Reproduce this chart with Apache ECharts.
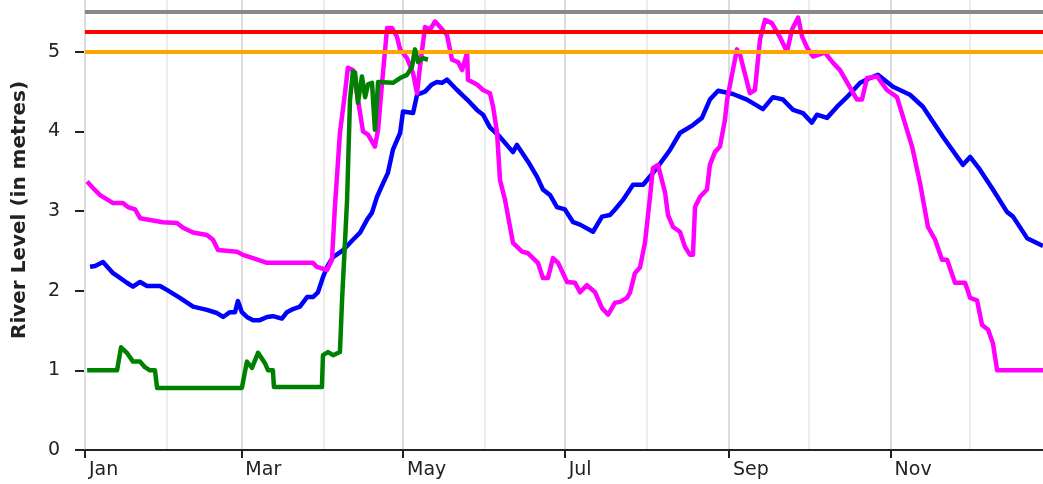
<!DOCTYPE html>
<html>
<head>
<meta charset="utf-8">
<script src="https://cdn.jsdelivr.net/npm/echarts@6/dist/echarts.min.js"></script>
<style>
html,body{margin:0;padding:0;background:#fff;}
#chart{width:1043px;height:484px;}
</style>
</head>
<body>
<div id="chart"></div>
<script>
// X axis: day of year (0 = 1 Jan)
const tickDays = [0, 59, 120, 181, 243, 304];
const tickLabels = ['Jan', 'Mar', 'May', 'Jul', 'Sep', 'Nov'];
const minorMonthDays = [31, 90, 151, 212, 273, 334];
const yTicks = [0, 1, 2, 3, 4, 5];
const thresholdLevels = [5.0, 5.25, 5.5];

const blueDays = [1.9,3.8,6.8,10.6,13.2,15.8,18.1,20.8,23.4,28.3,30.9,35.8,40.8,46,49.8,52.1,54.7,56.6,57.7,59.2,61.1,63.4,66,68.7,70.9,74.3,76.2,78.5,81.1,83.8,86,87.9,89.8,91.7,93.6,97.4,101.1,103.8,106.4,108.3,110.2,112.5,114.3,116.2,118.9,120,123.8,125.3,128.3,130.9,132.8,134.7,136.6,140.4,144.2,147.9,150.2,152.8,156.6,161.5,163,167.2,170.6,172.8,175.5,178.1,181.1,184.2,186.8,191.7,195.1,198.1,200,203,206.8,210.6,212.1,215.8,220.8,224.5,229.4,232.8,235.8,238.9,244.5,249.8,255.8,259.6,263.4,267.2,270.9,274.3,276.2,280,283.8,287.5,292.5,296.2,299.2,304.9,311.3,316.2,323.8,331.3,334,337.7,342.6,347.9,350.2,355.5,361.5];
const blueVals = [2.30,2.31,2.36,2.22,2.16,2.10,2.05,2.11,2.06,2.06,2.01,1.91,1.80,1.76,1.72,1.67,1.73,1.73,1.87,1.73,1.67,1.63,1.63,1.67,1.68,1.65,1.73,1.77,1.80,1.92,1.92,1.98,2.17,2.32,2.42,2.51,2.64,2.73,2.89,2.98,3.18,3.35,3.48,3.77,3.98,4.25,4.23,4.46,4.50,4.59,4.62,4.61,4.65,4.52,4.40,4.27,4.21,4.05,3.93,3.74,3.83,3.62,3.43,3.27,3.20,3.05,3.02,2.86,2.83,2.74,2.93,2.95,3.02,3.14,3.33,3.33,3.39,3.54,3.77,3.98,4.08,4.17,4.40,4.51,4.47,4.40,4.28,4.43,4.40,4.27,4.23,4.11,4.21,4.17,4.31,4.43,4.61,4.67,4.71,4.56,4.46,4.31,3.93,3.58,3.68,3.52,3.27,2.99,2.93,2.66,2.56];

const magentaDays = [0.8,3.0,5.7,10.6,14.3,16.2,18.9,20.8,29.4,34.7,37,40.8,46,48.3,50.2,57.4,59.6,63.4,68.7,86,87.5,91.3,93.2,94.3,96.2,98.1,99.2,101.1,103,104.9,106.8,109.4,110.6,112.1,114,115.8,117.7,118.9,121.5,123.8,125.3,126.4,128.3,130.2,132.1,134,136.6,138.5,140.8,142.3,144.2,144.5,147.9,150.2,152.8,154,155.5,156.6,158.5,161.5,164.9,167.2,170.9,172.8,174.7,176.6,178.5,181.9,184.9,186.8,189.4,192.5,195.1,197.4,200,201.9,204.5,205.7,207.5,209.4,211.3,213.2,214.3,216.2,218.9,220,221.9,224.5,226.4,228.3,229.4,230.2,232.1,234.7,235.8,237.7,239.6,241.5,242.3,246,247.2,250.9,252.8,254.7,256.6,259.2,262.3,264.9,266.8,269.1,270.6,272.5,274.7,279.2,282.3,284.9,288.7,291.3,293.2,295.1,298.9,302.6,306.4,308.7,312.1,315.1,318.1,320.8,323.4,325.3,328.3,332.1,334,336.6,338.5,340.8,342.6,344.2,361.5];
const magentaVals = [3.37,3.29,3.20,3.10,3.10,3.05,3.02,2.91,2.86,2.85,2.79,2.73,2.70,2.64,2.51,2.49,2.45,2.41,2.35,2.35,2.30,2.26,2.39,3.05,3.98,4.48,4.80,4.77,4.40,4.00,3.96,3.81,4.02,4.61,5.30,5.30,5.19,5.03,4.92,4.73,4.48,4.81,5.31,5.28,5.38,5.31,5.21,4.90,4.87,4.77,4.99,4.65,4.59,4.52,4.48,4.31,3.98,3.39,3.14,2.60,2.49,2.47,2.35,2.16,2.16,2.41,2.35,2.11,2.10,1.98,2.07,1.98,1.78,1.70,1.85,1.86,1.91,1.98,2.22,2.29,2.60,3.18,3.54,3.58,3.23,2.95,2.80,2.74,2.55,2.45,2.45,3.05,3.18,3.27,3.58,3.74,3.81,4.15,4.40,5.03,4.96,4.48,4.52,5.15,5.40,5.36,5.18,5.00,5.28,5.43,5.19,5.05,4.94,4.99,4.86,4.77,4.55,4.40,4.40,4.67,4.69,4.52,4.43,4.18,3.81,3.35,2.80,2.64,2.39,2.39,2.10,2.10,1.91,1.88,1.57,1.51,1.34,1.00,1.00];

const greenDays = [0.8,12.1,13.6,15.8,18.1,20.8,22.6,24.5,26.4,27.2,59.2,61.1,63,65.3,67.9,69.1,70.9,71.3,89.4,89.8,91.7,93.6,96.2,97,98.9,100,101.1,101.9,103,104.5,105.7,106.8,108.3,109.4,110.6,116.2,118.9,121.5,123.4,124.5,125.7,127.5,129.4];
const greenVals = [1.00,1.00,1.29,1.22,1.11,1.11,1.04,1.00,1.00,0.78,0.78,1.11,1.03,1.22,1.09,1.00,1.00,0.79,0.79,1.19,1.23,1.19,1.23,1.88,3.14,4.40,4.75,4.74,4.36,4.69,4.43,4.59,4.61,4.02,4.62,4.61,4.67,4.71,4.81,5.03,4.87,4.92,4.90];

const zip = (a, b) => a.map((d, i) => [d, b[i]]);
const thresholdColors = ['#ffa500', '#ff0000', '#888888'];

const chart = echarts.init(document.getElementById('chart'), null, {renderer: 'canvas'});
const labelFont = {fontFamily: 'DejaVu Sans', fontSize: 19, color: '#222'};

const levelLines = thresholdLevels.map((v, i) => ({yAxis: v, lineStyle: {color: thresholdColors[i], width: 4, type: 'solid'}}));

function lineSeries(days, vals, color, z) {
  return {type: 'line', xAxisIndex: 0, data: zip(days, vals), symbol: 'none', showSymbol: false, z: z, silent: true,
    lineStyle: {color: color, width: 4.5, join: 'round'}, itemStyle: {color: color},
    emphasis: {disabled: true}};
}

chart.setOption({
  animation: false,
  backgroundColor: '#fff',
  grid: {left: 85, right: 0, top: 0, bottom: 34, containLabel: false},
  xAxis: [{
    type: 'value', min: 0, max: 361.5, position: 'bottom', z: 3,
    axisLine: {show: true, onZero: false, lineStyle: {color: '#222', width: 2}},
    axisTick: {show: true, customValues: tickDays, length: 8, lineStyle: {color: '#222', width: 2}},
    axisLabel: Object.assign({
      customValues: tickDays, align: 'left', margin: 11, padding: [0, 0, 0, 4],
      formatter: v => { const i = tickDays.indexOf(Math.round(v)); return i >= 0 ? tickLabels[i] : ''; }
    }, labelFont),
    splitLine: {show: true, lineStyle: {color: '#dcdcdc', width: 2, type: 'solid'}}
  }, {
    type: 'value', min: 0, max: 361.5, position: 'bottom', z: 1,
    axisLine: {show: false},
    axisTick: {show: false, customValues: minorMonthDays},
    axisLabel: {show: false, customValues: minorMonthDays},
    splitLine: {show: true, lineStyle: {color: '#ececec', width: 2, type: 'solid'}}
  }],
  yAxis: {
    type: 'value', min: 0, max: 5.65,
    name: 'River Level (in metres)', nameLocation: 'middle', nameGap: 55,
    nameTextStyle: {fontFamily: 'DejaVu Sans', fontWeight: 'bold', fontSize: 20, color: '#222', padding: [0, 0, 0, 30]},
    axisLine: {show: true, lineStyle: {color: '#222', width: 2}},
    axisTick: {show: true, customValues: yTicks, length: 10, lineStyle: {color: '#222', width: 2}},
    axisLabel: Object.assign({customValues: yTicks, margin: 25}, labelFont),
    splitLine: {show: false}
  },
  series: [
    lineSeries(blueDays, blueVals, '#0000ff', 3),
    lineSeries(magentaDays, magentaVals, '#ff00ff', 4),
    lineSeries(greenDays, greenVals, '#008000', 5),
    {type: 'line', data: [], symbol: 'none', z: 6, silent: true,
     markLine: {silent: true, symbol: 'none', label: {show: false}, data: levelLines, animation: false}}
  ]
});
</script>
</body>
</html>
